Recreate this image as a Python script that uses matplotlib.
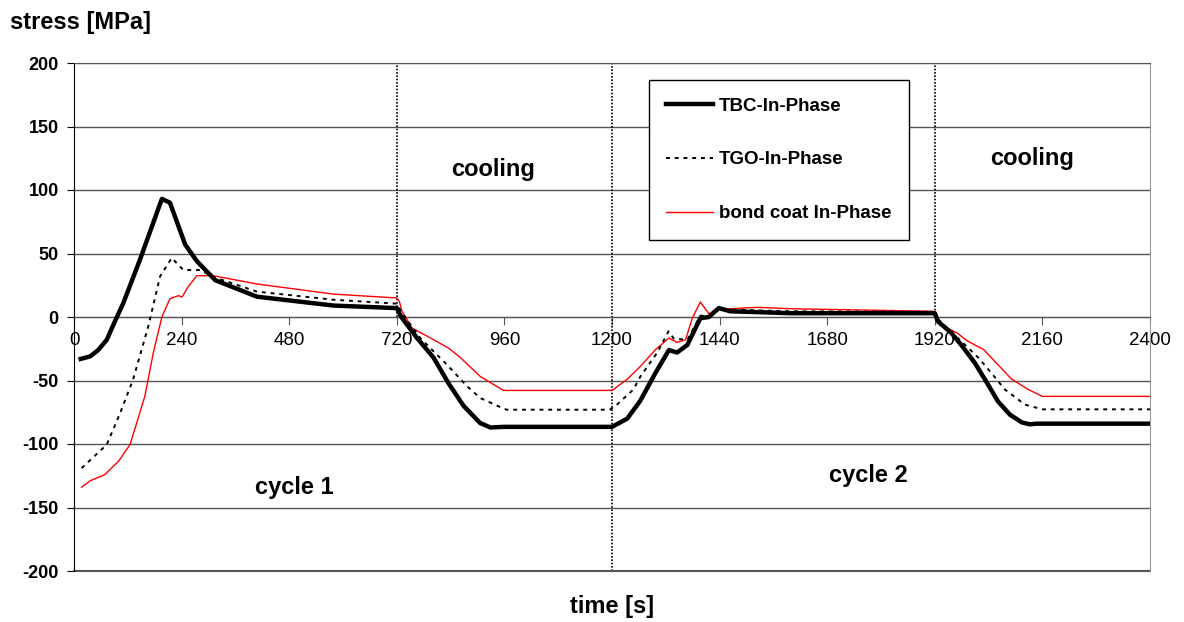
import matplotlib
matplotlib.use('Agg')
import matplotlib.pyplot as plt

plt.rcParams['font.family'] = ['Liberation Sans', 'DejaVu Sans']

# values (time in s, stress in MPa)
tbc_t = [15, 36, 54, 73, 88, 110, 147, 196, 214, 248, 274, 315, 408, 579, 720,
         730, 765, 802, 835, 869, 906, 929, 958, 1200, 1234, 1263, 1297, 1327,
         1345, 1368, 1397, 1416, 1438, 1464, 1598, 1920, 1927, 1957, 1979, 2009,
         2035, 2061, 2088, 2114, 2132, 2147, 2400]
tbc_v = [-33, -31, -26, -18, -6, 11, 45, 93, 90, 57, 44, 29, 16, 9, 7,
         0, -16.5, -32, -52, -70, -83.5, -87, -86.5, -86.5, -80, -66, -44, -26,
         -28, -22, -1, 0, 7, 4.5, 3, 3, -3.5, -12.6, -22, -36,
         -51, -66.5, -77, -83, -84.5, -84, -84]

tgo_t = [17, 73, 103, 132, 166, 192, 218, 244, 281, 315, 408, 579, 720, 730,
         772, 832, 877, 906, 951, 965, 1195, 1211, 1248, 1263, 1301, 1326, 1338,
         1368, 1397, 1419, 1440, 1598, 1920, 1927, 1987, 2017, 2046, 2076, 2121,
         2160, 2400]
tgo_v = [-119, -100.5, -75.6, -49, -7, 32, 46.5, 37, 37, 31, 20, 13.6, 10.5, 4,
         -16.5, -37.6, -54.6, -63.8, -71, -73, -73, -69, -57, -47, -28, -11.3, -17,
         -18, 1, 1, 6, 4.5, 4, -1.6, -21.8, -32, -44, -57, -69,
         -72.7, -72.7]

bc_t = [17, 36, 69, 99, 125, 158, 177, 196, 214, 233, 241, 255, 274, 311, 408,
        579, 720, 726, 731, 754, 795, 835, 862, 906, 958, 1200, 1234, 1263, 1297,
        1327, 1345, 1364, 1379, 1397, 1416, 1436, 1524, 1598, 1920, 1932, 1970,
        1992, 2029, 2061, 2091, 2128, 2160, 2400]
bc_v = [-134, -129, -124, -113.7, -100.5, -62.5, -28, 0, 14.4, 16.8, 15.7, 24, 32.5, 32.5, 26,
        18, 15, 12, 5, -8.7, -16.5, -24.4, -32, -46.8, -57.8, -57.8, -49, -39, -25.7,
        -16.5, -20, -18, -1, 11.8, 2.6, 6, 7.6, 6.5, 4.5, -6, -12.6,
        -18.7, -25.7, -37.6, -48.8, -57, -62.5, -62.5]

x_ticks = list(range(0, 2401, 240))
y_ticks = list(range(-200, 201, 50))

fig = plt.figure(figsize=(11.84, 6.22), dpi=100)
ax = fig.add_axes([74 / 1184, 51 / 622, 1076 / 1184, 508 / 622])

ax.plot(tbc_t, tbc_v, color='black', lw=3.2, label='TBC-In-Phase', zorder=5)
ax.plot(tgo_t, tgo_v, color='black', lw=1.4, ls=(0, (2, 2.5)), label='TGO-In-Phase', zorder=4)
ax.plot(bc_t, bc_v, color='red', lw=1.0, label='bond coat In-Phase', zorder=3)

# phase separators
ax.plot([720, 720], [0, 200], color='black', lw=1.2, ls=(0, (1, 1)))
ax.plot([1200, 1200], [-200, 200], color='black', lw=1.2, ls=(0, (1, 1)))
ax.plot([1920, 1920], [0, 200], color='black', lw=1.2, ls=(0, (1, 1)))

ax.spines['bottom'].set_position(('data', 0))
ax.spines['bottom'].set_color('#555555')
ax.spines['top'].set_color('#555555')
ax.spines['right'].set_color('#999999')
ax.spines['left'].set_color('black')

ax.set_xlim(0, 2400)
ax.set_ylim(-200, 200)
ax.set_xticks(x_ticks)
ax.set_yticks(y_ticks)
ax.set_xticklabels([str(t) for t in x_ticks])
ax.set_yticklabels([str(v) for v in y_ticks], fontweight='bold')
ax.tick_params(axis='x', direction='out', length=6, pad=5, color='#555555', labelsize=13.5)
ax.tick_params(axis='y', direction='out', length=5, pad=6, labelsize=13)
ax.yaxis.grid(True, color='#555555', lw=1)
ax.axhline(-200, color='#555555', lw=1.5, clip_on=False)
ax.set_axisbelow(True)

ax.text(935, 116, 'cooling', fontsize=17, fontweight='bold', ha='center', va='center')
ax.text(2138, 125, 'cooling', fontsize=17, fontweight='bold', ha='center', va='center')
ax.text(491, -134, 'cycle 1', fontsize=17, fontweight='bold', ha='center', va='center')
ax.text(1772, -125, 'cycle 2', fontsize=17, fontweight='bold', ha='center', va='center')

leg = ax.legend(loc='upper left', bbox_to_anchor=(0.534, 0.967), prop={'weight': 'bold', 'size': 13.5},
                frameon=True, fancybox=False, edgecolor='black', framealpha=1,
                labelspacing=1.95, handlelength=2.5, handletextpad=0.3, borderpad=0.95,
                borderaxespad=0)
leg.get_frame().set_linewidth(1)

fig.text(10 / 1184, 1 - 22 / 622, 'stress [MPa]', fontsize=17, fontweight='bold', va='center')
fig.text(612 / 1184, 1 - 606 / 622, 'time [s]', fontsize=17, fontweight='bold', ha='center', va='center')

fig.savefig('out.png', dpi=100)
